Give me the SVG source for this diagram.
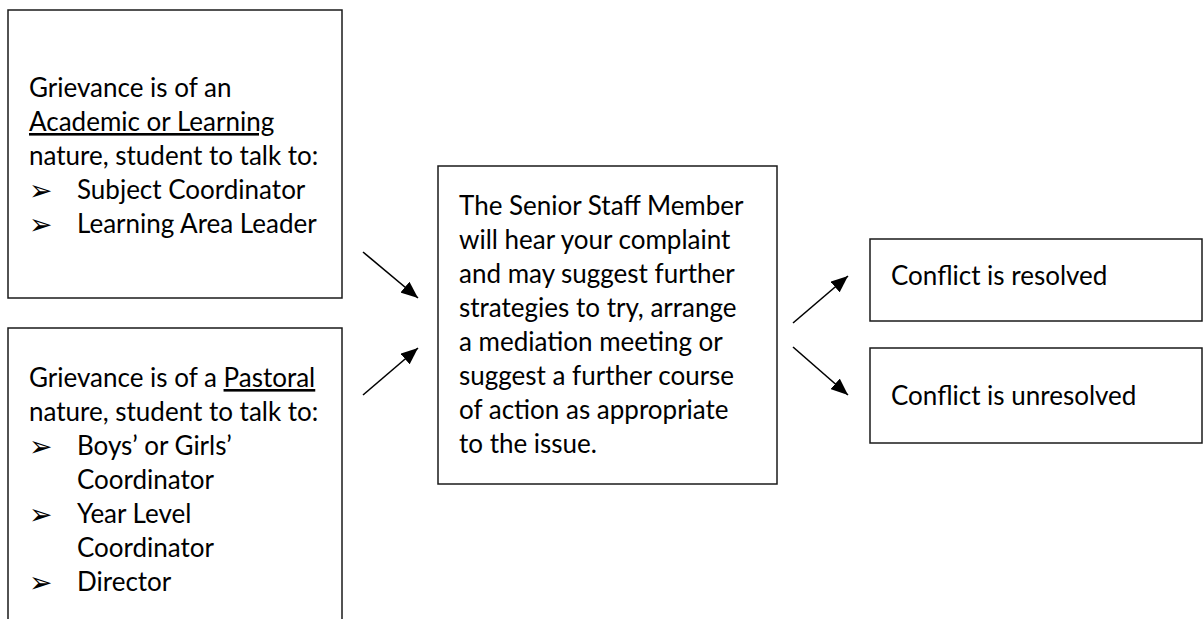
<svg xmlns="http://www.w3.org/2000/svg" width="1204" height="619" viewBox="0 0 1204 619">
  <style>
    .box { fill: #ffffff; stroke: #1a1a1a; stroke-width: 1.5; }
    .t { font-family: Lato, "Open Sans", "Liberation Sans", sans-serif; font-size: 26px; fill: #000000; }
    .b { font-family: "DejaVu Sans", sans-serif; font-size: 28px; fill: #000000; }
    .u { text-decoration: underline; }
    .conn { stroke: #000000; stroke-width: 1.6; fill: none; marker-end: url(#head); }
  </style>
  <defs>
    <marker id="head" viewBox="0 0 10 10" refX="10" refY="5" markerWidth="17" markerHeight="14" markerUnits="userSpaceOnUse" orient="auto" preserveAspectRatio="none">
      <path d="M0,0 L10,5 L0,10 z" fill="#000000"/>
    </marker>
  </defs>
  <rect width="1204" height="619" fill="#ffffff"/>

  <g id="academic">
    <rect class="box" x="8" y="10" width="334" height="288"/>
    <text class="t" x="29" y="97">Grievance is of an</text>
    <text class="t" x="29" y="131"><tspan class="u">Academic or Learning</tspan></text>
    <text class="t" x="29" y="165">nature, student to talk to:</text>
    <text class="b" x="29" y="200">➢</text>
    <text class="t" x="77" y="199">Subject Coordinator</text>
    <text class="b" x="29" y="234">➢</text>
    <text class="t" x="77" y="233">Learning Area Leader</text>
  </g>

  <g id="pastoral">
    <rect class="box" x="8" y="328" width="334" height="320"/>
    <text class="t" x="29" y="387">Grievance is of a <tspan class="u">Pastoral</tspan></text>
    <text class="t" x="29" y="421">nature, student to talk to:</text>
    <text class="b" x="29" y="456">➢</text>
    <text class="t" x="77" y="455">Boys’ or Girls’</text>
    <text class="t" x="77" y="489">Coordinator</text>
    <text class="b" x="29" y="524">➢</text>
    <text class="t" x="77" y="523">Year Level</text>
    <text class="t" x="77" y="557">Coordinator</text>
    <text class="b" x="29" y="592">➢</text>
    <text class="t" x="77" y="591">Director</text>
  </g>

  <g id="senior-staff">
    <rect class="box" x="438" y="166" width="339" height="318"/>
    <text class="t" x="459" y="215">The Senior Staff Member</text>
    <text class="t" x="459" y="249">will hear your complaint</text>
    <text class="t" x="459" y="283">and may suggest further</text>
    <text class="t" x="459" y="317">strategies to try, arrange</text>
    <text class="t" x="459" y="351">a mediation meeting or</text>
    <text class="t" x="459" y="385">suggest a further course</text>
    <text class="t" x="459" y="419">of action as appropriate</text>
    <text class="t" x="459" y="453">to the issue.</text>
  </g>

  <g id="resolved">
    <rect class="box" x="870" y="239" width="332" height="82"/>
    <text class="t" x="891" y="285">Conflict is resolved</text>
  </g>

  <g id="unresolved">
    <rect class="box" x="870" y="348" width="332" height="95"/>
    <text class="t" x="891" y="405">Conflict is unresolved</text>
  </g>

  <g id="connectors">
    <line class="conn" x1="363" y1="252" x2="418" y2="298"/>
    <line class="conn" x1="363" y1="395" x2="418" y2="348"/>
    <line class="conn" x1="793" y1="323" x2="848" y2="276"/>
    <line class="conn" x1="793" y1="347" x2="848" y2="395"/>
  </g>
</svg>
